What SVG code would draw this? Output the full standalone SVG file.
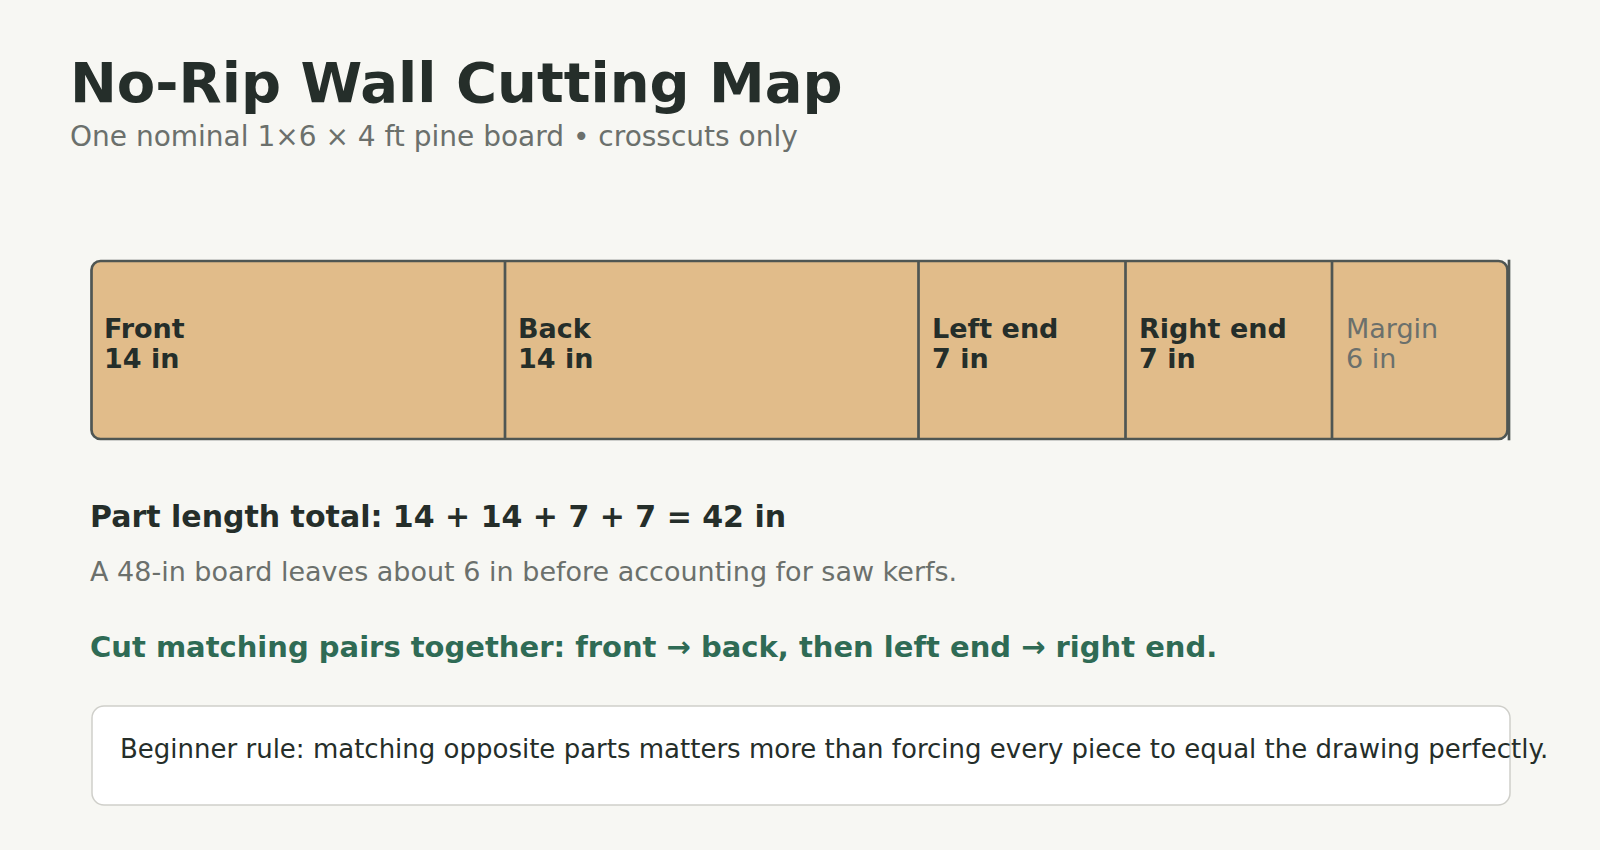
<svg xmlns="http://www.w3.org/2000/svg" width="1600" height="850" viewBox="0 0 1600 850">
<style>
.t{font-family:"DejaVu Sans","Liberation Sans",sans-serif}
.title{font-size:56px;font-weight:bold;fill:#252e2a}
.sub{font-size:28px;fill:#6b706c}
.lbl{font-size:27px;font-weight:bold;fill:#252e2a}
.mg{font-size:27px;fill:#6b706c}
.div{stroke:#4f5653;stroke-width:2.7}
.h{font-size:30px;font-weight:bold;fill:#252e2a}
.note{font-size:27px;fill:#6b706c}
.g{font-size:29px;font-weight:bold;fill:#2f6b55}
.rule{font-size:26px;fill:#252e2a}
</style>
<rect x="0" y="0" width="1600" height="850" fill="#f7f7f3"/>
<g id="header">
<text class="t title" x="70" y="102">No-Rip Wall Cutting Map</text>
<text class="t sub" x="70" y="146">One nominal 1×6 × 4 ft pine board • crosscuts only</text>
</g>
<g id="board">
<rect x="91.5" y="261" width="1416" height="178" rx="9" fill="#e1bc8a" stroke="#4f5653" stroke-width="2.7"/>
<line class="div" x1="1509" y1="259.7" x2="1509" y2="440.3"/>
</g>
<g id="connectors">
<line class="div" x1="505" y1="261" x2="505" y2="439"/>
<line class="div" x1="918.5" y1="261" x2="918.5" y2="439"/>
<line class="div" x1="1125.5" y1="261" x2="1125.5" y2="439"/>
<line class="div" x1="1332" y1="261" x2="1332" y2="439"/>
</g>
<g id="front"><text class="t lbl" x="104" y="338">Front</text><text class="t lbl" x="104" y="368">14 in</text></g>
<g id="back"><text class="t lbl" x="518" y="338">Back</text><text class="t lbl" x="518" y="368">14 in</text></g>
<g id="left-end"><text class="t lbl" x="932" y="338">Left end</text><text class="t lbl" x="932" y="368">7 in</text></g>
<g id="right-end"><text class="t lbl" x="1139" y="338">Right end</text><text class="t lbl" x="1139" y="368">7 in</text></g>
<g id="margin"><text class="t mg" x="1346" y="338">Margin</text><text class="t mg" x="1346" y="368">6 in</text></g>
<g id="summary">
<text class="t h" x="90" y="527">Part length total: 14 + 14 + 7 + 7 = 42 in</text>
<text class="t note" x="90" y="581">A 48-in board leaves about 6 in before accounting for saw kerfs.</text>
<text class="t g" x="90" y="657">Cut matching pairs together: front → back, then left end → right end.</text>
</g>
<g id="rule-box">
<rect x="92" y="706" width="1418" height="99" rx="12" fill="#ffffff" stroke="#cfcfca" stroke-width="1.5"/>
<text class="t rule" x="120" y="758">Beginner rule: matching opposite parts matters more than forcing every piece to equal the drawing perfectly.</text>
</g>
</svg>
